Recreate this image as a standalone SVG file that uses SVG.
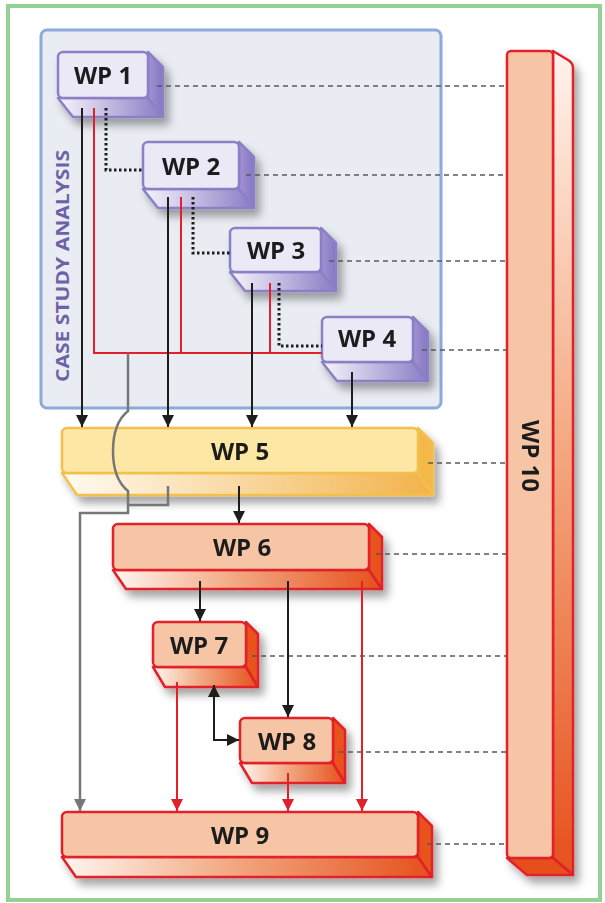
<svg xmlns="http://www.w3.org/2000/svg" width="605" height="903" viewBox="0 0 605 903">
  <defs>
    <style>
      .lbl { font-family: "Open Sans", "Liberation Sans", sans-serif; font-weight: 700; font-size: 24px; fill: #1d1d1b; text-anchor: middle; }
      .pu { stroke: #8b7fc5; stroke-width: 2.5; stroke-linejoin: round; }
      .ye { stroke: #f2c04e; stroke-width: 2.5; stroke-linejoin: round; }
      .rd { stroke: #e2202a; stroke-width: 2.5; stroke-linejoin: round; }
      .dash { fill: none; stroke: #5a5a5a; stroke-width: 1.5; stroke-dasharray: 5 4; }
      .dot { fill: none; stroke: #1d1d1b; stroke-width: 3; stroke-dasharray: 2.5 2.5; }
      .blk { fill: none; stroke: #1d1d1b; stroke-width: 2; }
      .red { fill: none; stroke: #e2202a; stroke-width: 2; }
      .gry { fill: none; stroke: #777777; stroke-width: 2.5; }
    </style>
    <linearGradient id="gPu" x1="0" y1="0" x2="1" y2="0">
      <stop offset="0" stop-color="#f7f5fc"/>
      <stop offset="1" stop-color="#8a7bc4"/>
    </linearGradient>
    <linearGradient id="gPuSide" x1="0" y1="0" x2="1" y2="0">
      <stop offset="0" stop-color="#a194d3"/>
      <stop offset="1" stop-color="#8676c2"/>
    </linearGradient>
    <linearGradient id="gYe" x1="0" y1="0" x2="1" y2="0">
      <stop offset="0" stop-color="#fffbf2"/>
      <stop offset="1" stop-color="#f3b24a"/>
    </linearGradient>
    <linearGradient id="gRd" x1="0" y1="0" x2="1" y2="0">
      <stop offset="0" stop-color="#fff6f0"/>
      <stop offset="0.45" stop-color="#f2a983"/>
      <stop offset="1" stop-color="#e6501c"/>
    </linearGradient>
    <linearGradient id="gSide10" x1="0" y1="0" x2="0" y2="1">
      <stop offset="0" stop-color="#fff3ec"/>
      <stop offset="0.5" stop-color="#f3a57c"/>
      <stop offset="1" stop-color="#e6501c"/>
    </linearGradient>
    <filter id="shadow" x="-20%" y="-20%" width="150%" height="160%">
      <feDropShadow dx="5" dy="7" stdDeviation="4" flood-color="#000" flood-opacity="0.35"/>
    </filter>
    <marker id="aB" markerUnits="userSpaceOnUse" markerWidth="12" markerHeight="12" viewBox="0 0 12 12" refX="12" refY="6" orient="auto">
      <path d="M0,0 L12,6 L0,12 Z" fill="#1d1d1b"/>
    </marker>
    <marker id="aBs" markerUnits="userSpaceOnUse" markerWidth="12" markerHeight="12" viewBox="0 0 12 12" refX="0" refY="6" orient="auto">
      <path d="M12,0 L0,6 L12,12 Z" fill="#1d1d1b"/>
    </marker>
    <marker id="aR" markerUnits="userSpaceOnUse" markerWidth="12" markerHeight="12" viewBox="0 0 12 12" refX="12" refY="6" orient="auto">
      <path d="M0,0 L12,6 L0,12 Z" fill="#e2202a"/>
    </marker>
    <marker id="aG" markerUnits="userSpaceOnUse" markerWidth="12" markerHeight="12" viewBox="0 0 12 12" refX="12" refY="6" orient="auto">
      <path d="M0,0 L12,6 L0,12 Z" fill="#777777"/>
    </marker>
  </defs>

  <!-- page -->
  <rect x="0" y="0" width="605" height="903" fill="#ffffff"/>
  <rect x="8" y="6" width="592" height="894" fill="#ffffff" stroke="#93d195" stroke-width="4"/>

  <!-- case study analysis frame -->
  <g id="case-study">
    <rect x="41" y="30" width="400" height="378" rx="6" fill="#e9edf3" stroke="#8eaad8" stroke-width="3"/>
    <text transform="translate(69 266) rotate(-90)" font-family="'Open Sans', 'Liberation Sans', sans-serif" font-weight="700" font-size="17" fill="#6d62a8" text-anchor="middle" textLength="232" lengthAdjust="spacingAndGlyphs">CASE STUDY ANALYSIS</text>
  </g>

  <!-- WP10: tall vertical bar -->
  <g id="wp10" filter="url(#shadow)">
    <path class="rd" d="M553,51 L568,60 Q573,63 573,68 L573,875 L553,858 Z" fill="url(#gSide10)"/>
    <path class="rd" d="M507,858 L553,858 L573,875 L527,875 Z" fill="#e6501c"/>
    <rect class="rd" x="507" y="51" width="46" height="807" rx="4" fill="#f6c5a6"/>
    <text class="lbl" transform="translate(530 456) rotate(90)" y="8">WP 10</text>
  </g>

  <!-- WP1 -->
  <g id="wp1" filter="url(#shadow)">
    <path class="pu" d="M58,98 L148,98 L163,117 L73,117 Z" fill="url(#gPu)"/>
    <path class="pu" d="M148,52 L163,67 L163,117 L148,98 Z" fill="url(#gPuSide)"/>
    <rect class="pu" x="58" y="52" width="90" height="46" rx="5" fill="#ece9f7"/>
    <text class="lbl" x="103" y="84">WP 1</text>
  </g>

  <!-- WP2 -->
  <g id="wp2" filter="url(#shadow)">
    <path class="pu" d="M143,189 L239,189 L254,208 L158,208 Z" fill="url(#gPu)"/>
    <path class="pu" d="M239,142 L254,157 L254,208 L239,189 Z" fill="url(#gPuSide)"/>
    <rect class="pu" x="143" y="142" width="96" height="47" rx="5" fill="#ece9f7"/>
    <text class="lbl" x="191" y="175">WP 2</text>
  </g>

  <!-- WP3 -->
  <g id="wp3" filter="url(#shadow)">
    <path class="pu" d="M230,272 L321,272 L336,291 L245,291 Z" fill="url(#gPu)"/>
    <path class="pu" d="M321,228 L336,243 L336,291 L321,272 Z" fill="url(#gPuSide)"/>
    <rect class="pu" x="230" y="228" width="91" height="44" rx="5" fill="#ece9f7"/>
    <text class="lbl" x="276" y="259">WP 3</text>
  </g>

  <!-- WP4 -->
  <g id="wp4" filter="url(#shadow)">
    <path class="pu" d="M322,362 L413,362 L428,381 L337,381 Z" fill="url(#gPu)"/>
    <path class="pu" d="M413,317 L428,332 L428,381 L413,362 Z" fill="url(#gPuSide)"/>
    <rect class="pu" x="322" y="317" width="91" height="45" rx="5" fill="#ece9f7"/>
    <text class="lbl" x="367" y="347">WP 4</text>
  </g>

  <!-- WP5 -->
  <g id="wp5" filter="url(#shadow)">
    <path class="ye" d="M62,473 L418,473 L433,495 L77,495 Z" fill="url(#gYe)"/>
    <path class="ye" d="M418,428 L433,443 L433,495 L418,473 Z" fill="#f4b84a"/>
    <rect class="ye" x="62" y="428" width="356" height="45" rx="5" fill="#fde7a4"/>
    <text class="lbl" x="240" y="460">WP 5</text>
  </g>

  <!-- WP6 -->
  <g id="wp6" filter="url(#shadow)">
    <path class="rd" d="M113,570 L369,570 L382,589 L126,589 Z" fill="url(#gRd)"/>
    <path class="rd" d="M369,524 L382,537 L382,589 L369,570 Z" fill="#e8531f"/>
    <rect class="rd" x="113" y="524" width="256" height="46" rx="5" fill="#f6c5a6"/>
    <text class="lbl" x="242" y="556">WP 6</text>
  </g>

  <!-- WP7 -->
  <g id="wp7" filter="url(#shadow)">
    <path class="rd" d="M153,667 L246,667 L258,687 L165,687 Z" fill="url(#gRd)"/>
    <path class="rd" d="M246,622 L258,634 L258,687 L246,667 Z" fill="#e8531f"/>
    <rect class="rd" x="153" y="622" width="93" height="45" rx="5" fill="#f6c5a6"/>
    <text class="lbl" x="199" y="654">WP 7</text>
  </g>

  <!-- WP8 -->
  <g id="wp8" filter="url(#shadow)">
    <path class="rd" d="M240,763 L333,763 L345,783 L252,783 Z" fill="url(#gRd)"/>
    <path class="rd" d="M333,718 L345,730 L345,783 L333,763 Z" fill="#e8531f"/>
    <rect class="rd" x="240" y="718" width="93" height="45" rx="5" fill="#f6c5a6"/>
    <text class="lbl" x="287" y="750">WP 8</text>
  </g>

  <!-- WP9 -->
  <g id="wp9" filter="url(#shadow)">
    <path class="rd" d="M62,857 L418,857 L432,877 L76,877 Z" fill="url(#gRd)"/>
    <path class="rd" d="M418,812 L432,826 L432,877 L418,857 Z" fill="#e8531f"/>
    <rect class="rd" x="62" y="812" width="356" height="45" rx="5" fill="#f6c5a6"/>
    <text class="lbl" x="240" y="844">WP 9</text>
  </g>

  <!-- connectors -->
  <g id="connectors">
    <!-- links to WP10 -->
    <path class="dash" d="M157,86 H507"/>
    <path class="dash" d="M246,175 H507"/>
    <path class="dash" d="M329,261 H507"/>
    <path class="dash" d="M422,350 H507"/>
    <path class="dash" d="M428,463 H507"/>
    <path class="dash" d="M376,554 H507"/>
    <path class="dash" d="M252,656 H507"/>
    <path class="dash" d="M339,752 H507"/>
    <path class="dash" d="M427,844 H507"/>

    <!-- dotted sequence WP1 to WP4 -->
    <path class="dot" d="M106,108 V170 H143"/>
    <path class="dot" d="M193,197 V253 H230"/>
    <path class="dot" d="M279,283 V346 H322"/>

    <!-- red collector -->
    <path class="red" d="M94,108 V353 H322"/>
    <path class="red" d="M181,197 V353"/>
    <path class="red" d="M270,283 V353"/>

    <!-- black flows into WP5 -->
    <path class="blk" d="M82,108 V427" marker-end="url(#aB)"/>
    <path class="blk" d="M168,197 V427" marker-end="url(#aB)"/>
    <path class="blk" d="M252,283 V427" marker-end="url(#aB)"/>
    <path class="blk" d="M352,372 V427" marker-end="url(#aB)"/>

    <!-- gray bypass to WP9 -->
    <path class="gry" d="M128,353 V411 Q113,423 113,451 Q113,479 128,491 V513 H80 V811" marker-end="url(#aG)"/>
    <path class="gry" d="M168,486 V505 H128"/>

    <!-- WP5 to WP6 -->
    <path class="blk" d="M239,486 V523" marker-end="url(#aB)"/>
    <!-- WP6 onwards -->
    <path class="blk" d="M200,581 V621" marker-end="url(#aB)"/>
    <path class="blk" d="M288,581 V717" marker-end="url(#aB)"/>
    <path class="red" d="M362,581 V811" marker-end="url(#aR)"/>
    <path class="red" d="M177,682 V811" marker-end="url(#aR)"/>
    <path class="red" d="M288,773 V811" marker-end="url(#aR)"/>
    <!-- WP7 and WP8 exchange -->
    <path class="blk" d="M214,685 V740 H239" marker-start="url(#aBs)" marker-end="url(#aB)"/>
  </g>
</svg>
